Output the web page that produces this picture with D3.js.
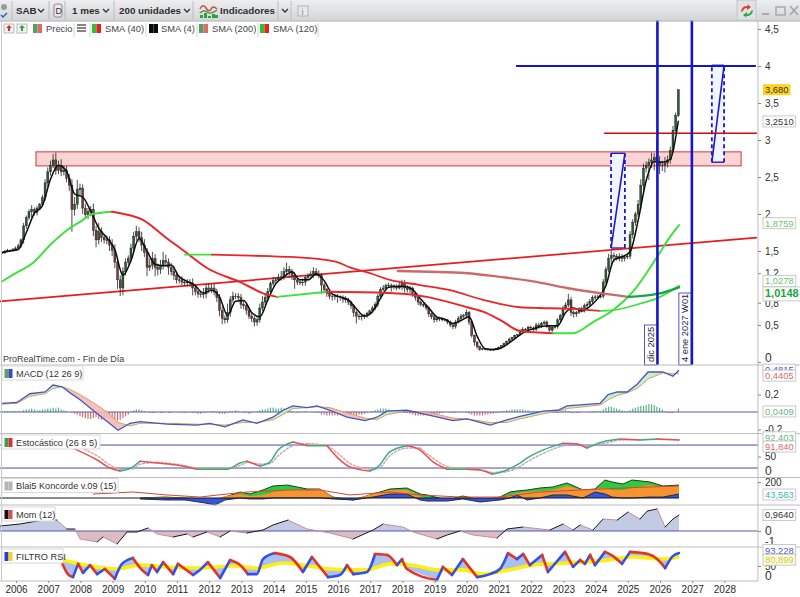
<!DOCTYPE html>
<html><head><meta charset="utf-8">
<style>html,body{margin:0;padding:0;background:#fff;overflow:hidden}svg{display:block}text{font-family:"Liberation Sans",Arial,sans-serif}</style>
<script src="https://cdn.jsdelivr.net/npm/d3@7"></script></head><body><div id="c"></div>
<script>
// ---------- data ----------
const startYear = 2005.57;
const closes = [1.48,1.50,1.51,1.51,1.52,1.54,
1.57,1.65,1.84,1.95,2.03,2.06,2.02,2.08,2.13,2.22,2.42,2.57,
2.66,2.73,2.59,2.66,2.57,2.59,2.48,2.39,2.06,2.13,2.33,2.35,
2.08,1.99,2.03,2.06,1.78,1.65,1.76,1.68,1.65,1.65,1.58,1.51,
1.35,1.11,1.00,1.22,1.35,1.40,1.54,1.70,1.76,1.68,1.58,1.48,
1.28,1.30,1.40,1.28,1.25,1.30,1.37,1.35,1.28,1.22,1.17,1.11,
1.11,1.08,1.07,1.08,1.07,1.00,.95,.92,.91,.92,1.00,.98,
1.00,.95,.87,.70,.59,.57,.67,.84,.89,.89,.87,.78,
.76,.70,.62,.59,.54,.57,.73,.81,.87,.95,1.06,1.10,
1.11,1.14,1.15,1.22,1.25,1.22,1.17,1.11,1.08,1.07,1.08,1.14,
1.17,1.19,1.22,1.19,1.17,1.04,.98,.93,.89,.89,.89,.88,
.87,.85,.84,.81,.76,.67,.62,.61,.62,.63,.66,.69,
.73,.78,.89,.98,1.00,1.03,1.04,1.03,1.02,1.00,1.03,1.06,
1.00,.98,1.00,.93,.87,.81,.78,.76,.73,.65,.61,.57,
.59,.58,.57,.57,.54,.50,.48,.54,.59,.62,.63,.67,
.54,.36,.27,.21,.17,.18,.17,.17,.16,.17,.18,.20,
.22,.25,.28,.31,.33,.36,.37,.42,.44,.44,.47,.46,
.44,.50,.48,.52,.54,.48,.43,.47,.48,.57,.63,.73,
.77,.84,.67,.65,.67,.72,.70,.76,.78,.82,.87,.88,
.88,.89,1.08,1.25,1.40,1.44,1.43,1.40,1.43,1.40,1.42,1.43,
1.72,1.89,2.00,2.13,2.39,2.62,2.66,2.70,2.73,2.76,2.70,2.66,
2.66,2.69,2.73,2.86,3.13,3.33,3.68];
const wickUp = [2,1,2,1,2,2,
3,2,4,3,3,6,3,3,2,4,5,6,
6,8,10,6,8,6,6,6,8,10,13,6,
5,6,5,5,8,6,12,6,5,6,5,8,
8,5,6,6,5,4,6,6,8,6,8,8,
6,10,9,6,5,8,12,8,5,6,8,5,
6,5,4,4,4,6,5,3,4,8,5,6,
5,6,4,5,5,4,12,5,6,4,4,5,
5,3,4,4,3,3,6,8,6,5,3,5,
4,5,8,6,9,5,4,4,3,4,5,3,
3,4,6,5,5,3,3,2,2,2,3,3,
2,3,4,3,2,2,3,3,3,2,2,2,
3,3,3,3,4,3,3,2,2,3,5,5,
5,4,3,2,2,3,2,2,2,2,2,3,
2,2,2,1,1,2,1,3,3,3,2,4,
2,2,1,1,1,1,1,1,1,1,1,1,
1,1,1,2,1,1,1,2,3,2,2,2,
2,3,3,2,2,2,2,2,2,2,2,3,
4,8,4,3,2,2,3,3,3,3,3,3,
3,3,4,4,6,6,4,3,4,3,3,4,
5,4,3,6,8,6,5,5,10,6,22,8,
6,8,6,5,6,4,0];
const wickDown = [2,2,1,2,2,2,
2,3,5,4,3,8,4,4,3,3,4,5,
5,4,6,5,6,5,5,8,30,8,6,8,
8,6,6,6,8,10,6,6,5,6,8,8,
8,12,11,10,5,4,4,5,6,6,8,6,
12,5,5,12,8,6,5,6,10,5,6,5,
5,4,4,5,5,10,5,5,4,5,6,5,
5,5,6,8,8,5,4,6,4,4,5,6,
5,6,4,5,6,5,4,4,4,5,6,3,
4,3,4,4,6,8,6,12,4,3,4,5,
4,3,5,3,4,12,5,5,4,6,5,8,
4,5,4,4,4,6,10,4,5,4,3,3,
3,3,4,3,2,2,3,8,4,3,2,6,
6,4,5,5,4,4,3,2,3,4,3,4,
3,3,2,2,3,3,4,3,2,2,3,4,
4,3,5,3,2,1,1,1,1,1,1,1,
1,1,1,1,1,1,1,1,2,2,1,1,
2,2,3,2,2,2,2,2,2,3,3,3,
3,3,5,5,4,2,3,3,3,3,3,3,
2,2,3,3,4,10,8,3,4,5,4,3,
4,5,5,4,6,8,6,20,8,14,8,12,
8,10,6,5,3,3,2];
const sma4 = [1.48,1.50,1.52,1.75,2.01,2.11,2.47,2.66,2.58,2.27,2.23,2.04,1.81,1.68,1.52,1.17,1.37,1.67,1.50,1.32,1.30,1.31,1.15,1.09,1.03,.93,.97,.88,.63,.82,.83,.67,.61,.84,1.06,1.15,1.22,1.11,1.11,1.19,1.10,.92,.88,.84,.72,.62,.68,.86,1.01,1.02,1.02,.98,.85,.73,.61,.58,.52,.56,.61,.35,.18,.17,.19,.26,.34,.41,.45,.48,.49,.49,.67,.73,.69,.75,.86,1.03,1.38,1.42,1.49,1.91,2.45,2.71,2.70,2.74,3.26];
const sma40Dates = [2005.57,2005.91,2006.53,2007.06,2007.58,2008.08,2008.30,2008.98,2009.23,2009.94,2010.63,2011.19,2011.93,2012.96,2013.80,2014.11,2015.66,2017.21,2018.33,2018.76,2020.01,2020.50,2021.03,2021.65,2022.68,2023.30,2023.92,2024.54,2025.16,2025.91,2026.31,2026.59];
const sma40 = [1.09,1.18,1.34,1.58,1.78,1.92,1.99,2.03,2.01,1.92,1.69,1.51,1.27,1.08,.91,.88,.95,.94,.91,.88,.74,.68,.57,.42,.39,.39,.54,.70,.95,1.42,1.69,1.85];
const sma120Dates = [2011.25,2012.09,2012.96,2013.89,2014.51,2015.44,2015.97,2016.37,2016.99,2017.61,2018.55,2019.48,2020.50,2021.65,2022.27,2023.11,2024.14,2024.54,2025.47,2025.91,2026.59];
const sma120 = [1.45,1.45,1.44,1.43,1.42,1.39,1.35,1.28,1.20,1.11,1.04,.97,.84,.74,.73,.72,.69,.70,.80,.86,1.03];
const sma200Dates = [2017.86,2020.01,2021.03,2022.06,2023.11,2024.14,2025.01,2025.91,2026.59];
const sma200 = [1.23,1.20,1.15,1.09,1.00,.93,.88,.92,1.01];
const trendDates = [2005.50,2029.01], trendValues = [.82,1.68];
const zoneDates = [2006.62,2028.52], zoneValues = [2.84,2.65];
const resistDates = [2024.26,2029.01], resistValue = 3.09;
const targetDates = [2021.53,2028.98], targetValue = 4;
const markerDates = [2025.92,2026.99];
const markerLabels = ["dic 2025","4 ene 2027 W01"];
const projA = {dates:[2024.48,2024.91], low:1.54, high:2.82};
const projB = {dates:[2027.61,2027.99], low:2.70, high:4.01};

const macdDates = [2005.57,2006.03,2006.43,2006.90,2007.15,2007.43,2007.68,2007.99,2008.39,2008.83,2009.17,2009.54,2009.85,2010.69,2011.62,2012.02,2012.49,2013.05,2013.48,2013.98,2014.29,2014.60,2015.04,2015.35,2015.75,2016.28,2016.84,2017.21,2017.52,2018.14,2018.76,2019.57,2020.01,2020.72,2021.25,2021.65,2022.37,2022.83,2023.11,2024.14,2024.39,2024.67,2024.98,2025.29,2025.63,2026.09,2026.40,2026.59];
const macd = [.10,.11,.21,.23,.31,.29,.22,.14,.02,-.11,-.21,-.13,-.11,-.14,-.15,-.13,-.17,-.09,-.13,-.06,.02,.07,.05,.07,.02,-.06,-.10,-.06,.01,.02,-.03,-.10,-.08,-.15,-.09,-.05,.01,.02,.07,.10,.20,.23,.23,.32,.46,.46,.41,.48];
const macdSignal = [.09,.10,.18,.21,.27,.29,.26,.20,.11,.00,-.12,-.16,-.13,-.13,-.14,-.14,-.15,-.12,-.12,-.09,-.03,.04,.05,.06,.05,-.01,-.07,-.09,-.03,.01,.00,-.07,-.08,-.12,-.12,-.08,-.02,.01,.04,.08,.14,.19,.22,.27,.38,.45,.44,.44];
const macdHist = [1,1,1,1,1,1,
1,1,2,3,3,4,3,2,2,3,3,4,
4,5,4,5,3,2,1,0,-1,-2,-3,-5,
-6,-7,-8,-8,-7,-6,-8,-9,-7,-6,-8,-9,
-9,-10,-9,-7,-5,-3,1,2,3,3,2,1,
0,-1,-1,-1,0,-1,-1,0,-1,-1,0,0,
0,-1,-1,0,0,-1,-1,-2,-2,-1,-1,0,
1,1,-1,-2,-2,-2,-1,1,1,2,1,0,
-1,-1,-2,-1,0,1,2,3,3,4,5,5,
4,4,5,4,3,2,1,0,-1,0,0,1,
0,0,0,-1,-1,-3,-3,-4,-4,-4,-4,-4,
-3,-3,-3,-3,-3,-4,-4,-3,-3,-2,-1,0,
1,2,3,4,4,4,3,2,1,1,1,0,
-1,-1,-2,-3,-4,-4,-4,-4,-4,-4,-4,-4,
-3,-2,-1,0,0,-1,-1,-1,0,0,0,-1,
-2,-3,-4,-4,-4,-4,-3,-3,-2,-2,-1,-1,
1,1,2,2,3,3,3,3,3,2,2,1,
1,1,1,0,0,0,0,-1,-1,-1,1,2,
2,1,-1,-1,-1,-1,0,0,0,1,1,1,
1,1,3,5,6,6,5,4,3,2,1,1,
2,4,5,6,7,7,8,9,9,8,6,5,
3,1,-1,-1,-1,0,4];

const stochDates = [2007.77,2008.52,2008.92,2009.23,2009.63,2009.85,2010.38,2011.00,2011.62,2012.55,2012.96,2013.17,2013.58,2013.89,2014.14,2014.60,2015.07,2015.66,2016.00,2016.37,2016.99,2017.24,2017.61,2018.14,2018.55,2018.95,2019.39,2020.01,2020.41,2020.78,2021.25,2021.65,2021.87,2022.37,2022.99,2023.42,2023.73,2024.35,2024.76,2025.38,2025.91,2026.59];
const stochK = [72,41,20,12,23,38,33,28,17,17,33,38,25,36,67,88,78,78,46,23,12,23,62,78,67,36,17,17,15,4,15,33,46,67,85,83,72,91,96,93,96,93];
const stochD = [80,52,28,16,18,30,35,30,20,17,27,35,30,32,52,78,84,78,58,32,17,18,52,72,72,46,24,17,15,8,11,24,36,58,78,84,76,86,93,94,95,94];

const konRedDates = [2008.39,2009.63,2010.69,2011.71,2012.55,2013.17,2014.51,2015.44,2016.37,2017.61,2018.55,2019.79,2021.03,2022.27,2024.14,2025.69,2026.59];
const konRed = [50,75,38,12,50,75,100,100,38,75,38,12,12,75,112,138,150];
const konDates = [2009.85,2010.63,2011.25,2011.87,2012.18,2012.49,2012.96,2013.27,2013.67,2013.98,2014.42,2014.73,2015.04,2015.44,2015.84,2016.47,2017.09,2017.61,2018.14,2018.55,2018.76,2019.39,2019.88,2020.41,2021.03,2021.34,2021.56,2021.87,2022.27,2022.68,2023.11,2023.61,2023.98,2024.29,2024.51,2024.85,2025.13,2025.69,2026.09,2026.59];
const konGreen = [0,12,0,-12,-38,12,75,50,100,150,162,138,112,112,12,-25,50,112,125,50,38,-25,25,-25,12,75,88,100,125,138,188,100,112,225,200,175,225,200,150,162];
const konOrange = [0,12,0,-12,-12,25,50,25,38,75,100,100,100,112,12,-12,50,100,100,25,-12,-25,0,-12,12,38,62,75,88,100,150,100,112,125,100,100,125,162,138,150];
const konBlue = [-12,-25,-25,-62,-88,-25,0,-12,-12,0,0,0,0,0,-12,-25,12,50,50,-25,-38,-38,-12,-50,-25,0,38,-25,0,38,38,0,75,50,12,0,0,12,12,50];

const momDates = [2005.50,2006.12,2006.84,2007.27,2007.58,2007.83,2007.99,2008.52,2008.70,2009.14,2009.45,2009.76,2010.10,2010.38,2010.88,2011.31,2011.50,2011.93,2012.34,2012.65,2013.17,2013.67,2013.98,2014.45,2015.04,2015.75,2016.47,2017.09,2017.40,2018.02,2018.33,2019.07,2019.39,2019.79,2020.19,2020.94,2021.25,2021.75,2022.58,2022.99,2023.30,2023.52,2023.92,2024.23,2024.67,2025.01,2025.38,2025.60,2025.91,2026.16,2026.40,2026.59];
const mom = [.30,.42,.66,.66,.12,.12,-.48,-.66,-.36,-.78,-.06,-.06,.18,-.18,-.36,-.18,-.36,-.06,-.36,0,-.12,.06,.36,.66,.12,-.12,-.48,.06,.42,.24,-.06,-.48,-.24,0,-.24,-.42,.12,.24,.06,.42,.06,.36,.06,.72,.66,1.14,.72,1.20,1.33,.24,.72,.96];

const rsiDates = [2007.43,2007.61,2007.77,2007.93,2008.08,2008.30,2008.52,2008.76,2009.07,2009.29,2009.63,2009.91,2010.10,2010.22,2010.38,2010.57,2010.88,2011.03,2011.50,2011.71,2011.96,2012.34,2012.65,2012.96,2013.20,2013.48,2013.67,2014.04,2014.51,2014.91,2015.19,2015.69,2016.06,2016.28,2016.47,2016.90,2017.15,2017.52,2017.83,2017.99,2018.14,2019.07,2019.26,2019.54,2019.88,2020.32,2020.72,2021.03,2021.28,2021.56,2021.75,2021.96,2022.34,2022.52,2023.05,2023.30,2023.52,2023.67,2023.83,2023.98,2024.29,2024.54,2024.82,2025.07,2025.63,2025.91,2026.16,2026.40,2026.59];
const rsi = [60,23,13,57,27,53,23,40,7,57,77,37,20,53,30,63,23,57,20,37,63,10,70,53,23,23,73,93,80,30,80,13,20,53,23,30,90,87,53,73,40,3,47,20,73,13,23,40,93,73,90,53,87,30,97,47,70,57,87,53,97,83,57,97,90,73,43,83,93];
const rsiAvgDates = [2007.46,2008.30,2009.14,2009.85,2010.69,2011.71,2012.74,2013.48,2014.29,2014.91,2015.75,2016.90,2017.61,2018.45,2019.07,2019.88,2020.50,2021.12,2022.06,2023.11,2024.14,2025.16,2026.00,2026.59];
const rsiAvg = [70,50,40,53,47,43,50,43,60,53,40,37,57,50,37,37,23,33,53,60,67,80,73,80];

const yearTicks = d3.range(2006,2029);
const priceTicks = [0,.5,.8,1.2,1.5,2,2.5,3,3.5,4,4.5];
const legendNames = ["SMA (40)","SMA (4)","SMA (200)","SMA (120)"];
const panelNames = ["MACD (12 26 9)","Estocástico (26 8 5)","Blai5 Koncorde v.09 (15)","Mom (12)","FILTRO RSI"];

// ---------- page ----------
const W=800,H=597,AX=758;
const svg=d3.select("#c").append("svg").attr("width",W).attr("height",H);
const x=d3.scaleLinear().domain([2006,2028]).range([16,724.4]);
const yP=d3.scaleLinear().domain([0,4.5]).range([362,29]);
const yM=d3.scaleLinear().domain([-.5,.5]).range([455.5,368.5]);
const yS=d3.scaleLinear().domain([0,100]).range([475.7,437.4]);
const yK=d3.scaleLinear().domain([-100,200]).range([506,482]);
const yO=d3.scaleLinear().domain([-1,1]).range([547.6,514.4]);
const yR=d3.scaleLinear().domain([0,100]).range([581,551]);
const monthDate=i=>startYear+i/12;
const zip=(ds,vs)=>ds.map((d,i)=>({d,v:vs[i]}));

function runs(g,pts,y,up,down,width,curve,dash){
  let cur=[pts[0]],col=null;
  const flush=()=>{ if(cur.length>1) g.append("path").attr("d",d3.line().x(p=>x(p.d)).y(p=>y(p.v)).curve(curve)(cur))
     .attr("fill","none").attr("stroke",col).attr("stroke-width",width).attr("stroke-linecap","round").attr("stroke-dasharray",dash||null);};
  for(let i=1;i<pts.length;i++){
    const c=pts[i].v>=pts[i-1].v?up:down;
    if(col&&c!==col){flush();cur=[pts[i-1]];}
    col=c;cur.push(pts[i]);
  }
  flush();
}
const G=svg.append("g");

G.append("rect").attr("x",x(zoneDates[0])).attr("width",x(zoneDates[1])-x(zoneDates[0]))
 .attr("y",yP(zoneValues[0])).attr("height",yP(zoneValues[1])-yP(zoneValues[0]))
 .attr("fill","#fad3d3").attr("stroke","#cc3a3a").attr("stroke-width",1);

[projA,projB].forEach(p=>{
  const x0=x(p.dates[0]),x1=x(p.dates[1]),y0=yP(p.low),y1=yP(p.high);
  G.append("path").attr("d",`M${x0},${y0}L${x1},${y1}L${x0},${y1}Z`).attr("fill","#f2f5fd");
  G.append("path").attr("d",`M${x0},${y0}L${x1},${y0}L${x1},${y1}Z`).attr("fill","#f2f5fd");
  [x0,x1].forEach(xx=>G.append("line").attr("x1",xx).attr("x2",xx).attr("y1",y0).attr("y2",y1)
     .attr("stroke","#1a1ad0").attr("stroke-width",1.8).attr("stroke-dasharray","4 3"));
  G.append("line").attr("x1",x0).attr("y1",y0).attr("x2",x1).attr("y2",y1).attr("stroke","#1a1ad0").attr("stroke-width",1.6);
  G.append("line").attr("x1",x0).attr("y1",y0).attr("x2",x1).attr("y2",y0).attr("stroke","#1a1ad0").attr("stroke-width",1.4);
  G.append("line").attr("x1",x0).attr("y1",y1).attr("x2",x1).attr("y2",y1).attr("stroke","#1a1ad0").attr("stroke-width",1.4);
});

const TL=d3.line().x(p=>x(p.d)).y(p=>yP(p.v));
G.append("path").attr("d",TL(zip(trendDates,trendValues))).attr("stroke","#e81c1c").attr("stroke-width",1.7).attr("fill","none");
G.append("line").attr("x1",x(resistDates[0])).attr("x2",x(resistDates[1])).attr("y1",yP(resistValue)).attr("y2",yP(resistValue)).attr("stroke","#c40f0f").attr("stroke-width",1.5);
G.append("line").attr("x1",x(targetDates[0])).attr("x2",x(targetDates[1])).attr("y1",yP(targetValue)).attr("y2",yP(targetValue)).attr("stroke","#1414cc").attr("stroke-width",1.8);

const candles=closes.map((c,i)=>{const o=i?closes[i-1]:c;return {d:monthDate(i),o,c,h:Math.max(o,c)+wickUp[i]/100,l:Math.min(o,c)-wickDown[i]/100};});
const cg=G.append("g");
cg.selectAll("line").data(candles).join("line").attr("x1",p=>x(p.d)).attr("x2",p=>x(p.d)).attr("y1",p=>yP(p.h)).attr("y2",p=>yP(p.l)).attr("stroke","#1f1f1f").attr("stroke-width",.8);
cg.selectAll("rect").data(candles).join("rect").attr("x",p=>x(p.d)-1).attr("width",2).attr("y",p=>yP(Math.max(p.o,p.c))).attr("height",p=>Math.max(.6,Math.abs(yP(p.o)-yP(p.c))))
  .attr("fill",p=>p.c>=p.o?"#2f5a36":"#704040").attr("stroke","#161616").attr("stroke-width",.4);

const curve=d3.curveMonotoneX;
G.append("path").attr("d",d3.line().x(p=>x(p.d)).y(p=>yP(p.v)).curve(curve)(sma4.map((v,i)=>({d:monthDate(i*3),v})))).attr("fill","none").attr("stroke","#0c0c0c").attr("stroke-width",1.5);
runs(G,zip(sma40Dates,sma40),yP,"#3fe03f","#e8262c",2,curve);
runs(G,zip(sma120Dates,sma120),yP,"#3fe03f","#e8262c",1.8,curve);
runs(G,zip(sma200Dates,sma200),yP,"#12a848","#cc6a6a",2.4,curve);

markerDates.forEach((d,i)=>{
  const xx=x(d);
  G.append("line").attr("x1",xx).attr("x2",xx).attr("y1",18).attr("y2",365).attr("stroke","#1414cc").attr("stroke-width",2.6);
  const top=i?293:325;
  G.append("rect").attr("x",xx-13).attr("width",12).attr("y",top).attr("height",365-top).attr("fill","#fff").attr("stroke","#2828b8").attr("stroke-width",.8);
  G.append("text").attr("transform",`translate(${xx-3.5},362) rotate(-90)`).attr("font-size",9.3).attr("fill","#1c1c3c").text(markerLabels[i]);
});

// ---------- MACD ----------
const pM=svg.append("g");
const zM=yM(0);
pM.selectAll("rect").data(macdHist.map((v,i)=>({d:monthDate(i),v:v/100}))).join("rect")
  .attr("x",p=>x(p.d)-.6).attr("width",1.2).attr("y",p=>Math.min(zM,yM(p.v))).attr("height",p=>Math.abs(yM(p.v)-zM))
  .attr("fill",p=>p.v>=0?"#55b878":"#d46a6a");
pM.append("line").attr("x1",0).attr("x2",AX).attr("y1",zM).attr("y2",zM).attr("stroke","#5a5aa6").attr("stroke-width",1);
const macdPts=macdDates.map((d,i)=>({d,a:macd[i],b:macdSignal[i]}));
macdPts.slice(1).forEach((p,i)=>{
  const q=macdPts[i];
  pM.append("path").attr("d",d3.area().x(r=>x(r.d)).y0(r=>yM(r.a)).y1(r=>yM(r.b))([q,p]))
    .attr("fill",(p.a+q.a)>=(p.b+q.b)?"#bfeccd":"#f6b9b9").attr("opacity",.9);
});
pM.append("path").attr("d",d3.line().x(p=>x(p.d)).y(p=>yM(p.b))(macdPts)).attr("fill","none").attr("stroke","#d6a25e").attr("stroke-width",1);
pM.append("path").attr("d",d3.line().x(p=>x(p.d)).y(p=>yM(p.a))(macdPts)).attr("fill","none").attr("stroke","#4656be").attr("stroke-width",1.3);

// ---------- Stochastic ----------
const pS=svg.append("g");
[20,80].forEach(l=>pS.append("line").attr("x1",0).attr("x2",AX).attr("y1",yS(l)).attr("y2",yS(l)).attr("stroke","#4c4c9e").attr("stroke-width",1));
runs(pS,zip(stochDates,stochD),yS,"#b8a8d8","#eda0a0",1.5,curve,"2 2");
runs(pS,zip(stochDates,stochK),yS,"#46ad68","#e05252",1.5,curve);

// ---------- Koncorde ----------
const pK=svg.append("g");
const areaK=vs=>d3.area().x(p=>x(p.d)).y0(yK(0)).y1(p=>yK(p.v))(zip(konDates,vs));
const lineK=vs=>d3.line().x(p=>x(p.d)).y(p=>yK(p.v))(zip(konDates,vs));
pK.append("path").attr("d",areaK(konGreen)).attr("fill","#2fc83f");
pK.append("path").attr("d",lineK(konGreen)).attr("fill","none").attr("stroke","#1d3f1d").attr("stroke-width",1);
pK.append("path").attr("d",areaK(konOrange)).attr("fill","#f7942f");
pK.append("path").attr("d",areaK(konBlue)).attr("fill","#3556d6");
pK.append("path").attr("d",lineK(konBlue)).attr("fill","none").attr("stroke","#14204a").attr("stroke-width",.9);
pK.append("line").attr("x1",0).attr("x2",x(2026.59)).attr("y1",yK(0)).attr("y2",yK(0)).attr("stroke","#161616").attr("stroke-width",1.1);
pK.append("path").attr("d",d3.line().x(p=>x(p.d)).y(p=>yK(p.v))(zip(konRedDates,konRed))).attr("fill","none").attr("stroke","#cf4a34").attr("stroke-width",1);

// ---------- Momentum ----------
const pO=svg.append("g");
const defs=svg.append("defs");
defs.append("clipPath").attr("id","momUp").append("rect").attr("x",0).attr("y",505).attr("width",AX).attr("height",yO(0)-505);
defs.append("clipPath").attr("id","momDn").append("rect").attr("x",0).attr("y",yO(0)).attr("width",AX).attr("height",547-yO(0));
const momPts=zip(momDates,mom);
const areaO=d3.area().x(p=>x(p.d)).y0(yO(0)).y1(p=>yO(p.v));
pO.append("path").attr("d",areaO(momPts)).attr("fill","#c3cbe4").attr("clip-path","url(#momUp)");
pO.append("path").attr("d",areaO(momPts)).attr("fill","#dcbcc4").attr("clip-path","url(#momDn)");
pO.append("line").attr("x1",0).attr("x2",AX).attr("y1",yO(0)).attr("y2",yO(0)).attr("stroke","#5656a8").attr("stroke-width",1.1);
runs(pO,momPts,yO,"#161616","#c98c98",1,d3.curveLinear);

// ---------- RSI filter ----------
const pR=svg.append("g");
const rsiPts=zip(rsiDates,rsi), avgPts=zip(rsiAvgDates,rsiAvg);
pR.append("path").attr("d",d3.line().x(p=>x(p.d)).y(p=>yR(p.v)).curve(d3.curveLinearClosed)(rsiPts.concat(avgPts.slice().reverse()))).attr("fill","#a9c0f2");
pR.append("path").attr("d",d3.line().x(p=>x(p.d)).y(p=>yR(p.v)).curve(curve)(avgPts)).attr("fill","none").attr("stroke","#ffee10").attr("stroke-width",3.6);
runs(pR,rsiPts,yR,"#3350e6","#e5331f",2.6,curve);

// ---------- chrome ----------
const chrome=svg.append("g");
const grad=defs.append("linearGradient").attr("id","tb").attr("x1",0).attr("x2",0).attr("y1",0).attr("y2",1);
grad.append("stop").attr("offset",0).attr("stop-color","#eceeef");grad.append("stop").attr("offset",1).attr("stop-color","#d3d5d7");
chrome.append("rect").attr("width",W).attr("height",20.5).attr("fill","url(#tb)");
chrome.append("line").attr("x1",0).attr("x2",W).attr("y1",21).attr("y2",21).attr("stroke","#a8a8a8").attr("stroke-width",1.2);
[12,49,65,114,193,278,291].forEach(s=>chrome.append("line").attr("x1",s).attr("x2",s).attr("y1",1).attr("y2",20).attr("stroke","#bcbcbc"));
const tb=(t,xx,b)=>chrome.append("text").attr("x",xx).attr("y",14).attr("font-size",9.8).attr("font-weight",b?"bold":null).attr("fill","#2f2f2f").text(t);
tb("SAB",16,1);tb("1 mes",72,1);tb("200 unidades",119,1);tb("Indicadores",220,1);
[41,106,187,285].forEach(a=>chrome.append("path").attr("d",`M${a-3},9l3,3l3,-3`).attr("fill","none").attr("stroke","#333").attr("stroke-width",1.3));
chrome.append("rect").attr("x",54).attr("y",4).attr("width",8).attr("height",13).attr("rx",2).attr("fill","#e8eaec").attr("stroke","#8a8a8a");
chrome.append("text").attr("x",55.5).attr("y",14).attr("font-size",9).attr("fill","#333").text("D");
chrome.append("path").attr("d","M200,9q3,-6 6,-1t5,1t6,0").attr("fill","none").attr("stroke","#c8553a").attr("stroke-width",1.5);
chrome.append("path").attr("d","M200,13q4,-4 7,-1t10,-2").attr("fill","none").attr("stroke","#5a8a4a").attr("stroke-width",1.3);
[[200,15,2],[204,13,4],[208,16,1],[212,14,3],[215,15,2]].forEach(b=>chrome.append("rect").attr("x",b[0]).attr("y",b[1]).attr("width",3).attr("height",b[2]+1).attr("fill","#2fa03f"));
chrome.append("rect").attr("x",298).attr("y",6).attr("width",10).attr("height",10).attr("fill","#e6e8ea").attr("stroke","#b5b5b5");
chrome.append("text").attr("x",301.5).attr("y",15).attr("font-size",9).attr("fill","#888").text("i");
chrome.append("circle").attr("cx",4).attr("cy",7).attr("r",3).attr("fill","#9a9a9a");
chrome.append("path").attr("d","M1,15l2,2l4,-4").attr("fill","none").attr("stroke","#2a5ac8").attr("stroke-width",1.4);
chrome.append("rect").attr("x",737).attr("y",0).attr("width",19).attr("height",20).attr("fill","#dfe1e3").attr("stroke","#c6c6c6");
chrome.append("path").attr("d","M741,12a6,6 0 0 1 7,-6l-1,-2l4,3l-4,3l0,-2a4,4 0 0 0 -4,3z").attr("fill","#e23a2c");
chrome.append("path").attr("d","M753,10a6,6 0 0 1 -7,6l1,2l-4,-3l4,-3l0,2a4,4 0 0 0 4,-3z").attr("fill","#2ea845");
chrome.append("line").attr("x1",762).attr("x2",769).attr("y1",14).attr("y2",14).attr("stroke","#a9a9a9").attr("stroke-width",2);
chrome.append("rect").attr("x",776).attr("y",7).attr("width",9).attr("height",8).attr("fill","none").attr("stroke","#a9a9a9").attr("stroke-width",1.5);
chrome.append("path").attr("d","M790,6l8,9M798,6l-8,9").attr("stroke","#a9a9a9").attr("stroke-width",1.8);

[365,433.5,477.5,505,547,581].forEach(s=>chrome.append("line").attr("x1",0).attr("x2",s===581?AX:W).attr("y1",s).attr("y2",s).attr("stroke","#bdbdbd").attr("stroke-width",1));
chrome.append("line").attr("x1",1.5).attr("x2",1.5).attr("y1",21).attr("y2",581).attr("stroke","#c9c9c9");
chrome.append("line").attr("x1",AX).attr("x2",AX).attr("y1",21).attr("y2",581).attr("stroke","#bdbdbd");

const legend=chrome.append("g");
legend.append("rect").attr("x",2).attr("y",22).attr("width",316).attr("height",14).attr("fill","#fff").attr("opacity",.9);
[74,90,146,197,258,318].forEach(s=>legend.append("line").attr("x1",s).attr("x2",s).attr("y1",23).attr("y2",37).attr("stroke","#d4d4d4"));
[[4,"#f3f3f3"],[17,"#f3f3f3"]].forEach(b=>legend.append("rect").attr("x",b[0]).attr("y",24).attr("width",10).attr("height",9).attr("fill",b[1]).attr("stroke","#b8b8b8"));
legend.append("path").attr("d","M9,25l3,3h-2v3h-2v-3h-2z").attr("fill","#d83030");
legend.append("path").attr("d","M22,25l3,3h-2v3h-2v-3h-2z").attr("fill","#30a040");
const swatch=(xx,a,b)=>{legend.append("rect").attr("x",xx).attr("y",24).attr("width",4.5).attr("height",9).attr("fill",a);legend.append("rect").attr("x",xx+4.5).attr("y",24).attr("width",4.5).attr("height",9).attr("fill",b);};
swatch(33,"#4fa35f","#dc6a6a");swatch(92,"#30c030","#ee1c1c");swatch(149,"#0c0c0c","#0c0c0c");swatch(199,"#4fa35f","#dc6a6a");swatch(260,"#30c030","#ee1c1c");
[25,28,31].forEach(l=>legend.append("line").attr("x1",77).attr("x2",86).attr("y1",l).attr("y2",l).attr("stroke","#333").attr("stroke-width",1.2));
const lt=(t,xx)=>legend.append("text").attr("x",xx).attr("y",32).attr("font-size",9.4).attr("fill","#474747").text(t);
lt("Precio",46);[105,161,212,273].forEach((xx,i)=>lt(legendNames[i],xx));
chrome.append("text").attr("x",3).attr("y",362).attr("font-size",9).attr("fill","#3c3c3c").text("ProRealTime.com - Fin de Día");

const titleBoxes=[[366,81,"#5aa069","#4048c8"],[435,98,"#3aa050","#e03030"],[478.5,116,"#b5b5b5","#b5b5b5"],[507,53,"#111","#e05050"],[549,61,"#2040e0","#ffd020"]];
titleBoxes.forEach((b,i)=>{
  const g=chrome.append("g");
  g.append("rect").attr("x",2).attr("y",b[0]).attr("width",b[1]).attr("height",14).attr("fill","#fff").attr("stroke","#d8d8d8");
  g.append("rect").attr("x",4.5).attr("y",b[0]+3).attr("width",4).attr("height",9).attr("fill",b[2]);
  g.append("rect").attr("x",8.5).attr("y",b[0]+3).attr("width",4).attr("height",9).attr("fill",b[3]);
  g.append("text").attr("x",16).attr("y",b[0]+10.5).attr("font-size",9.2).attr("fill","#333").text(panelNames[i]);
});

const commaFmt=f=>v=>d3.format(f)(v).replace(".",",").replace("−","-");
function rightAxis(scale,ticks,fmt){
  const g=svg.append("g").attr("transform",`translate(${AX},0)`).call(d3.axisRight(scale).tickValues(ticks).tickSize(3).tickPadding(4).tickFormat(fmt));
  g.select(".domain").remove();
  g.selectAll("text").attr("font-size",10).attr("fill","#303030").style("font-family",'"Liberation Sans",Arial,sans-serif');
  g.selectAll("line").attr("stroke","#888");
  return g;
}
const mainAx=rightAxis(yP,priceTicks,v=>Number.isInteger(v)?String(v):d3.format(".1f")(v).replace(".",","));
mainAx.selectAll("text").filter(v=>v===0).attr("dy","-0.05em").attr("font-size",12);
rightAxis(yM,[.2,-.2],commaFmt(".1f"));
rightAxis(yS,[50],d3.format("d"));
rightAxis(yK,[200],d3.format("d"));
rightAxis(yO,[0],d3.format("d")).selectAll("text").attr("font-size",12);
rightAxis(yR,[50],d3.format("d"));
[[470,"0"],[540,"-1"],[575,"0"]].forEach(t=>svg.append("text").attr("x",765).attr("y",t[0]+4.5).attr("font-size",t[1]==="-1"?11:12).attr("fill","#303030").text(t[1]));

const botAx=svg.append("g").attr("transform","translate(0,581)").call(d3.axisBottom(x).tickValues(yearTicks).tickSize(2).tickPadding(3).tickFormat(d3.format("d")));
botAx.select(".domain").remove();
botAx.selectAll("text").attr("font-size",10).attr("fill","#2a2a2a").style("font-family",'"Liberation Sans",Arial,sans-serif');
botAx.selectAll("line").attr("stroke","#888");

const lastValues={price:3.680,close:3.2510,sma40:1.8759,sma120:1.0278,sma200:1.0148,macd:.4815,signal:.4405,hist:.0409,k:92.403,d:91.840,kon:43.583,mom:.9640,rsi:93.228,avg:80.899};
function tag(yy,val,dec,col,bg,bold){
  const g=svg.append("g");
  const t=g.append("text").attr("x",765).attr("y",yy+3.5).attr("font-size",bold?11:9.4).attr("font-weight",bold?"bold":null).attr("fill",col).text(d3.format("."+dec+"f")(val).replace(".",","));
  const w=t.node().getComputedTextLength(),h=bold?14:11;
  g.insert("rect","text").attr("x",763).attr("y",yy-h/2).attr("width",w+4).attr("height",h).attr("fill",bg).attr("stroke",bg==="#ffd21f"?"none":"#c9c9c9");
  return g;
}
tag(yP(lastValues.price),lastValues.price,3,"#333","#ffd21f");
tag(yP(lastValues.close),lastValues.close,4,"#333","#fff");
tag(yP(lastValues.sma40),lastValues.sma40,4,"#6fc46f","#fff");
tag(yP(lastValues.sma120)-5,lastValues.sma120,4,"#6fc46f","#fff");
tag(yP(lastValues.sma200)+7,lastValues.sma200,4,"#18a83c","#fff",true);
tag(yM(lastValues.macd)-.5,lastValues.macd,4,"#4a56bc","#fff");
tag(yM(lastValues.signal)+2,lastValues.signal,4,"#d46a6a","#fff");
tag(yM(lastValues.hist)+3,lastValues.hist,4,"#62b87e","#fff");
tag(yS(lastValues.k)-3,lastValues.k,3,"#62b87e","#fff");
tag(yS(lastValues.d)+6,lastValues.d,3,"#d46a6a","#fff");
tag(yK(lastValues.kon),lastValues.kon,3,"#36b8b8","#fff");
tag(yO(lastValues.mom),lastValues.mom,4,"#333","#fff");
tag(yR(lastValues.rsi)-3,lastValues.rsi,3,"#4a56d8","#fff");
tag(yR(lastValues.avg)+3,lastValues.avg,3,"#d8cc30","#fbfbe2");
</script></body></html>
